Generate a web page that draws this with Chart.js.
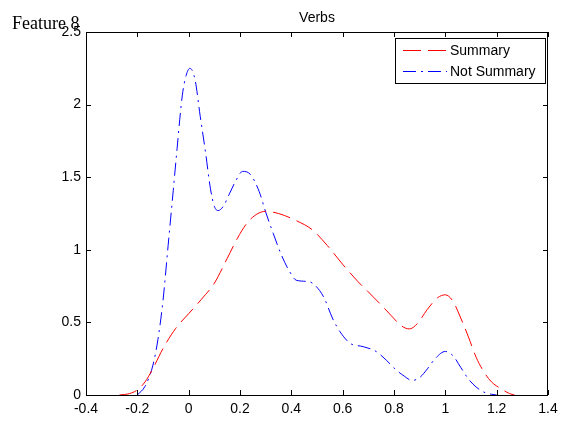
<!DOCTYPE html>
<html>
<head>
<meta charset="utf-8">
<script src="https://cdn.jsdelivr.net/npm/chart.js@4.4.1/dist/chart.umd.min.js"></script>
<style>
  html, body { margin: 0; padding: 0; background: #fff; }
  #wrap { width: 570px; height: 421px; }
</style>
</head>
<body>
<div id="wrap"><canvas id="chart"></canvas></div>
<script>
const xTicks = [-0.4, -0.2, 0, 0.2, 0.4, 0.6, 0.8, 1, 1.2, 1.4];
const yTicks = [0, 0.5, 1, 1.5, 2, 2.5];

const seriesNames = ['Summary', 'Not Summary'];

const summaryX = [-0.27, -0.23, -0.2, -0.17, -0.14, -0.1, -0.05, 0, 0.05, 0.1, 0.15, 0.19, 0.23, 0.27, 0.3,
    0.35, 0.42, 0.48, 0.54, 0.6, 0.66, 0.7, 0.75, 0.79, 0.83, 0.86, 0.89, 0.93, 0.97, 1.0,
    1.03, 1.06, 1.09, 1.12, 1.15, 1.18, 1.22, 1.25, 1.27];
const summaryY = [0, 0.01, 0.035, 0.09, 0.18, 0.32, 0.46, 0.56, 0.66, 0.77, 0.94, 1.08, 1.19, 1.25, 1.265,
    1.25, 1.2, 1.14, 1.03, 0.9, 0.78, 0.71, 0.62, 0.545, 0.475, 0.455, 0.49, 0.59, 0.67, 0.69,
    0.645, 0.53, 0.4, 0.26, 0.16, 0.09, 0.04, 0.01, 0];

const notSummaryX = [-0.2, -0.17, -0.14, -0.12, -0.1, -0.08, -0.06, -0.045, -0.025, -0.01, 0.005, 0.025, 0.045,
    0.065, 0.085, 0.1, 0.115, 0.135, 0.16, 0.185, 0.21, 0.24, 0.275, 0.3, 0.33, 0.36, 0.39, 0.42,
    0.47, 0.51, 0.53, 0.56, 0.59, 0.63, 0.68, 0.73, 0.77, 0.81, 0.84, 0.87, 0.9, 0.93, 0.96, 1.0,
    1.03, 1.06, 1.09, 1.12, 1.15, 1.18, 1.2];
const notSummaryY = [0, 0.06, 0.2, 0.38, 0.65, 1.03, 1.41, 1.7, 2.06, 2.2, 2.25, 2.17, 1.92,
    1.68, 1.42, 1.3, 1.27, 1.3, 1.39, 1.48, 1.54, 1.52, 1.4, 1.26, 1.11, 0.97, 0.86, 0.79,
    0.78, 0.72, 0.66, 0.53, 0.435, 0.355, 0.333, 0.3, 0.24, 0.17, 0.13, 0.1, 0.12, 0.18, 0.25, 0.3,
    0.27, 0.19, 0.11, 0.055, 0.02, 0.005, 0];

const zip = (xs, ys) => xs.map((x, i) => ({ x: x, y: ys[i] }));

const redDash = [18, 7];
const blueDash = [13, 5, 2, 5];
const labelFont = '"Liberation Sans", Arial, sans-serif';

// matlab style box, inward ticks, title, legend
const matlabFrame = {
    id: 'matlabFrame',
    afterDraw(chart) {
        const ctx = chart.ctx;
        const a = chart.chartArea;
        const sx = chart.scales.x, sy = chart.scales.y;
        const tl = 5;
        ctx.save();
        ctx.strokeStyle = '#000';
        ctx.lineWidth = 1;
        ctx.setLineDash([]);
        ctx.strokeRect(a.left + 0.5, a.top + 0.5, a.right - a.left - 1, a.bottom - a.top);
        ctx.beginPath();
        xTicks.forEach(v => {
            const px = Math.round(sx.getPixelForValue(v)) + 0.5;
            ctx.moveTo(px, a.bottom); ctx.lineTo(px, a.bottom - tl);
            ctx.moveTo(px, a.top); ctx.lineTo(px, a.top + tl);
        });
        yTicks.forEach(v => {
            const py = Math.round(sy.getPixelForValue(v)) + 0.5;
            ctx.moveTo(a.left, py); ctx.lineTo(a.left + tl, py);
            ctx.moveTo(a.right, py); ctx.lineTo(a.right - tl, py);
        });
        ctx.stroke();

        ctx.fillStyle = '#000';
        ctx.font = '14px ' + labelFont;
        ctx.textAlign = 'center';
        ctx.textBaseline = 'middle';
        ctx.fillText('Verbs', (a.left + a.right) / 2, 18);

        ctx.font = '18px "Liberation Serif", "Times New Roman", serif';
        ctx.textAlign = 'left';
        ctx.textBaseline = 'alphabetic';
        ctx.fillText('Feature 8', 12, 29);

        // legend
        const lx = 395, ly = 38, lw = 150, lh = 45;
        ctx.fillStyle = '#fff';
        ctx.fillRect(lx, ly, lw, lh);
        ctx.strokeRect(lx + 0.5, ly + 0.5, lw, lh);
        const colors = ['#ff0000', '#0000ff'];
        const dashes = [redDash, blueDash];
        const rows = [50, 71];
        ctx.font = '14px ' + labelFont;
        ctx.textBaseline = 'middle';
        seriesNames.forEach((name, i) => {
            ctx.strokeStyle = colors[i];
            ctx.setLineDash(dashes[i]);
            ctx.beginPath();
            ctx.moveTo(403, rows[i] + 0.5);
            ctx.lineTo(447, rows[i] + 0.5);
            ctx.stroke();
            ctx.fillStyle = '#000';
            ctx.fillText(name, 450, rows[i] + 1);
        });
        ctx.restore();
    }
};

new Chart(document.getElementById('chart'), {
    type: 'line',
    data: {
        datasets: [
            {
                label: seriesNames[0],
                data: zip(summaryX, summaryY),
                borderColor: '#ff0000',
                borderWidth: 1,
                borderDash: redDash,
                pointRadius: 0,
                cubicInterpolationMode: 'monotone',
                fill: false
            },
            {
                label: seriesNames[1],
                data: zip(notSummaryX, notSummaryY),
                borderColor: '#0000ff',
                borderWidth: 1,
                borderDash: blueDash,
                pointRadius: 0,
                cubicInterpolationMode: 'monotone',
                fill: false
            }
        ]
    },
    options: {
        responsive: true,
        maintainAspectRatio: false,
        animation: false,
        layout: { padding: { top: 32, right: 22, left: 0, bottom: 0 } },
        plugins: {
            legend: { display: false },
            tooltip: { enabled: false },
            title: { display: false }
        },
        scales: {
            x: {
                type: 'linear',
                min: -0.4,
                max: 1.4,
                afterBuildTicks: s => { s.ticks = xTicks.map(v => ({ value: v })); },
                afterFit: s => { s.height = 26; },
                grid: { display: false, drawTicks: false },
                border: { display: false },
                ticks: {
                    color: '#000',
                    padding: 6,
                    maxRotation: 0,
                    autoSkip: false,
                    font: { family: labelFont, size: 14 },
                    callback: v => String(Math.round(v * 10) / 10)
                }
            },
            y: {
                min: 0,
                max: 2.5,
                afterBuildTicks: s => { s.ticks = yTicks.map(v => ({ value: v })); },
                afterFit: s => { s.width = 86; },
                grid: { display: false, drawTicks: false },
                border: { display: false },
                ticks: {
                    color: '#000',
                    padding: 5,
                    autoSkip: false,
                    font: { family: labelFont, size: 14 },
                    callback: v => String(Math.round(v * 10) / 10)
                }
            }
        }
    },
    plugins: [matlabFrame]
});
</script>
</body>
</html>
